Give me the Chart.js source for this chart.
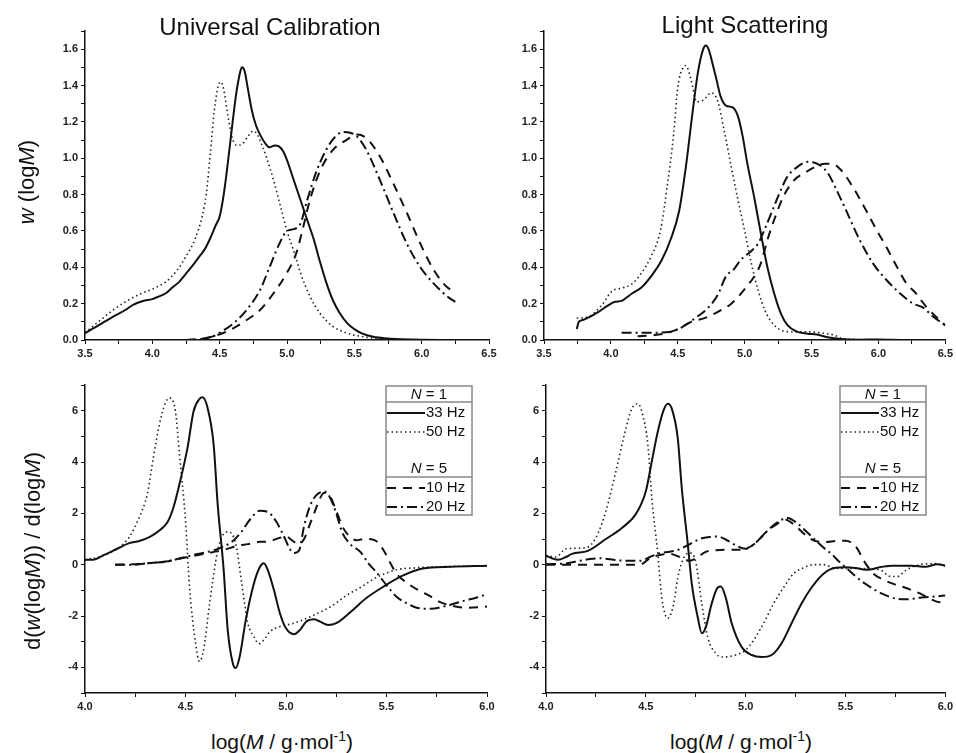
<!DOCTYPE html>
<html lang="en">
<head>
    <meta charset="UTF-8">
    <title>Universal Calibration vs Light Scattering</title>
    <style>
        body {
            margin: 0;
            background: #fff;
            font-family: "Liberation Sans", Arial, sans-serif;
        }
        #wrap {
            position: relative;
            width: 956px;
            height: 753px;
            overflow: hidden;
        }
        canvas { position: absolute; }
        .txt {
            position: absolute;
            color: #111;
            white-space: nowrap;
            line-height: 1;
        }
        .title { font-size: 24px; transform: translate(-50%, -50%); }
        .ylab { font-size: 22px; transform: translate(-50%, -50%) rotate(-90deg); }
        .xlab { font-size: 21px; transform: translate(-50%, -50%); }
        .xlab sup { font-size: 14px; }
    </style>
</head>
<body>
<div id="wrap">
    <canvas id="ucTop" width="500" height="365" style="left:0;top:0"></canvas>
    <canvas id="lsTop" width="486" height="365" style="left:470px;top:0"></canvas>
    <canvas id="ucBot" width="500" height="350" style="left:0;top:370px"></canvas>
    <canvas id="lsBot" width="486" height="350" style="left:470px;top:370px"></canvas>

    <div class="txt title" style="left:270px;top:27px">Universal Calibration</div>
    <div class="txt title" style="left:745px;top:25px">Light Scattering</div>
    <div class="txt ylab" style="left:27px;top:182px"><i>w</i> (log<i>M</i>)</div>
    <div class="txt ylab" style="left:33px;top:551px">d(<i>w</i>(log<i>M</i>)) / d(log<i>M</i>)</div>
    <div class="txt xlab" style="left:282px;top:740px">log(<i>M</i> / g·mol<sup>-1</sup>)</div>
    <div class="txt xlab" style="left:741px;top:740px">log(<i>M</i> / g·mol<sup>-1</sup>)</div>
</div>

<script src="https://cdn.jsdelivr.net/npm/chart.js@4.4.1/dist/chart.umd.min.js"></script>
<script>
// ---- data: [log M, value] pairs ----

// Universal Calibration, w(logM)
const ucTop33 = [[3.5,0.037],[3.6,0.08],[3.7,0.125],[3.8,0.165],[3.86,0.195],[3.93,0.215],[4.0,0.225],[4.05,0.24],[4.1,0.257],[4.15,0.29],[4.2,0.32],[4.25,0.365],[4.3,0.41],[4.35,0.46],[4.39,0.5],[4.43,0.56],[4.47,0.63],[4.5,0.68],[4.53,0.8],[4.56,0.97],[4.59,1.16],[4.62,1.34],[4.645,1.45],[4.665,1.5],[4.685,1.48],[4.71,1.38],[4.74,1.26],[4.77,1.18],[4.8,1.13],[4.84,1.08],[4.87,1.06],[4.91,1.07],[4.94,1.065],[4.97,1.04],[5.0,0.99],[5.05,0.88],[5.1,0.77],[5.15,0.66],[5.2,0.55],[5.245,0.43],[5.29,0.32],[5.34,0.22],[5.39,0.15],[5.45,0.09],[5.5,0.06],[5.56,0.035],[5.64,0.018],[5.75,0.008],[5.85,0.004],[6.0,0.001],[6.2,0]];
const ucTop50 = [[3.5,0.04],[3.6,0.1],[3.7,0.16],[3.8,0.21],[3.9,0.25],[4.0,0.28],[4.1,0.32],[4.18,0.38],[4.25,0.46],[4.32,0.56],[4.37,0.68],[4.4,0.8],[4.43,1.02],[4.46,1.26],[4.49,1.4],[4.51,1.42],[4.53,1.38],[4.56,1.24],[4.59,1.12],[4.63,1.07],[4.67,1.08],[4.71,1.12],[4.75,1.15],[4.78,1.13],[4.81,1.08],[4.85,1.0],[4.9,0.88],[4.95,0.74],[5.0,0.6],[5.05,0.49],[5.1,0.37],[5.17,0.24],[5.245,0.147],[5.34,0.075],[5.45,0.037],[5.59,0.015],[5.72,0.005],[5.9,0.001]];
const ucTop10 = [[4.25,0],[4.35,0.005],[4.45,0.02],[4.53,0.04],[4.6,0.064],[4.7,0.11],[4.8,0.165],[4.9,0.257],[5.0,0.37],[5.07,0.48],[5.12,0.62],[5.17,0.77],[5.245,0.93],[5.34,1.045],[5.44,1.1],[5.52,1.13],[5.59,1.11],[5.69,1.01],[5.79,0.86],[5.89,0.7],[5.99,0.53],[6.09,0.385],[6.19,0.29],[6.25,0.265]];
const ucTop20 = [[4.25,0],[4.35,0.004],[4.45,0.02],[4.5,0.04],[4.6,0.09],[4.7,0.165],[4.8,0.275],[4.87,0.4],[4.95,0.54],[5.0,0.6],[5.05,0.61],[5.1,0.64],[5.15,0.77],[5.22,0.93],[5.29,1.045],[5.36,1.12],[5.42,1.145],[5.47,1.14],[5.52,1.12],[5.59,1.045],[5.69,0.88],[5.79,0.7],[5.89,0.53],[5.99,0.4],[6.09,0.31],[6.19,0.24],[6.25,0.21]];

// Light Scattering, w(logM)
const lsTop33 = [[3.745,0.06],[3.76,0.1],[3.79,0.11],[3.85,0.13],[3.91,0.156],[3.98,0.19],[4.03,0.21],[4.08,0.215],[4.12,0.235],[4.16,0.257],[4.23,0.29],[4.3,0.35],[4.38,0.44],[4.45,0.56],[4.51,0.71],[4.56,0.95],[4.61,1.25],[4.65,1.47],[4.69,1.6],[4.71,1.62],[4.73,1.6],[4.76,1.52],[4.79,1.43],[4.82,1.34],[4.86,1.29],[4.91,1.28],[4.95,1.23],[4.985,1.12],[5.02,0.97],[5.07,0.79],[5.12,0.59],[5.17,0.4],[5.22,0.257],[5.27,0.147],[5.32,0.082],[5.39,0.046],[5.47,0.035],[5.54,0.03],[5.62,0.015],[5.72,0.005],[5.85,0.002],[6.0,0.003],[6.2,0],[6.5,0]];
const lsTop50 = [[3.745,0.12],[3.83,0.128],[3.93,0.19],[4.01,0.27],[4.08,0.285],[4.16,0.31],[4.23,0.37],[4.3,0.46],[4.37,0.6],[4.42,0.84],[4.47,1.14],[4.5,1.39],[4.54,1.5],[4.56,1.51],[4.6,1.43],[4.64,1.31],[4.69,1.32],[4.75,1.36],[4.8,1.31],[4.85,1.14],[4.9,0.95],[4.95,0.77],[5.0,0.6],[5.05,0.42],[5.1,0.275],[5.15,0.165],[5.22,0.082],[5.32,0.046],[5.47,0.045],[5.59,0.037],[5.67,0.027],[5.72,0.01],[5.85,0.002]];
const lsTop10 = [[4.2,0.02],[4.3,0.025],[4.4,0.035],[4.5,0.06],[4.6,0.1],[4.7,0.12],[4.8,0.155],[4.9,0.2],[5.0,0.28],[5.08,0.36],[5.12,0.42],[5.17,0.55],[5.22,0.66],[5.29,0.79],[5.37,0.88],[5.45,0.92],[5.52,0.95],[5.6,0.97],[5.65,0.97],[5.72,0.935],[5.81,0.84],[5.91,0.71],[5.99,0.6],[6.06,0.51],[6.14,0.4],[6.21,0.31],[6.28,0.257],[6.36,0.18],[6.43,0.128],[6.5,0.08]];
const lsTop20 = [[4.08,0.04],[4.2,0.04],[4.3,0.04],[4.44,0.044],[4.53,0.07],[4.63,0.12],[4.73,0.18],[4.8,0.25],[4.86,0.35],[4.92,0.39],[4.97,0.44],[5.05,0.49],[5.1,0.53],[5.15,0.61],[5.2,0.7],[5.25,0.79],[5.32,0.9],[5.39,0.95],[5.47,0.98],[5.54,0.97],[5.62,0.92],[5.69,0.82],[5.76,0.71],[5.86,0.55],[5.96,0.42],[6.06,0.33],[6.16,0.257],[6.26,0.2],[6.33,0.18],[6.41,0.128],[6.5,0.08]];

// Universal Calibration, d(w(logM))/d(logM)
const ucBot33 = [[4.0,0.19],[4.04,0.19],[4.09,0.36],[4.16,0.62],[4.22,0.84],[4.27,0.92],[4.32,1.07],[4.37,1.33],[4.41,1.65],[4.44,2.23],[4.47,3.14],[4.51,4.55],[4.54,5.97],[4.57,6.46],[4.585,6.52],[4.61,6.1],[4.64,4.68],[4.66,2.36],[4.69,-0.22],[4.71,-2.54],[4.735,-3.83],[4.75,-4.03],[4.77,-3.57],[4.8,-2.15],[4.84,-0.74],[4.87,-0.09],[4.89,0.06],[4.91,-0.22],[4.94,-0.99],[4.97,-1.9],[5.0,-2.48],[5.04,-2.71],[5.07,-2.54],[5.1,-2.22],[5.14,-2.13],[5.17,-2.22],[5.21,-2.35],[5.25,-2.28],[5.32,-1.85],[5.4,-1.3],[5.48,-0.88],[5.58,-0.43],[5.68,-0.15],[5.82,-0.08],[6.0,-0.04]];
const ucBot50 = [[4.0,0.19],[4.07,0.3],[4.16,0.62],[4.22,1.07],[4.27,1.85],[4.31,2.75],[4.34,4.17],[4.37,5.46],[4.4,6.3],[4.42,6.5],[4.45,5.97],[4.47,4.3],[4.5,1.72],[4.52,-0.86],[4.55,-3.06],[4.57,-3.77],[4.59,-3.32],[4.62,-1.51],[4.66,0.55],[4.68,1.07],[4.71,1.28],[4.75,0.81],[4.78,-0.74],[4.81,-2.28],[4.84,-2.8],[4.865,-3.08],[4.89,-2.93],[4.92,-2.61],[4.97,-2.41],[5.04,-2.28],[5.14,-1.96],[5.24,-1.55],[5.3,-1.2],[5.37,-0.89],[5.45,-0.5],[5.55,-0.2],[5.65,-0.12],[5.77,-0.08],[6.0,-0.04]];
const ucBot10 = [[4.15,0],[4.25,0.02],[4.3,0.05],[4.4,0.12],[4.5,0.28],[4.6,0.43],[4.7,0.6],[4.76,0.74],[4.81,0.8],[4.87,0.89],[4.91,0.9],[4.97,1.05],[5.0,1.1],[5.03,0.95],[5.06,0.8],[5.09,1.0],[5.12,1.6],[5.14,2.0],[5.17,2.6],[5.19,2.8],[5.22,2.65],[5.25,2.1],[5.28,1.5],[5.31,1.15],[5.35,0.95],[5.39,1.0],[5.43,0.98],[5.46,0.85],[5.49,0.5],[5.52,0.05],[5.55,-0.35],[5.6,-0.7],[5.66,-1.0],[5.71,-1.2],[5.77,-1.47],[5.82,-1.59],[5.9,-1.68],[6.0,-1.63]];
const ucBot20 = [[4.15,0],[4.25,0],[4.3,0.05],[4.35,0.08],[4.4,0.12],[4.45,0.2],[4.5,0.3],[4.55,0.4],[4.6,0.48],[4.65,0.58],[4.7,0.75],[4.74,0.95],[4.78,1.3],[4.82,1.75],[4.87,2.1],[4.91,2.05],[4.95,1.7],[4.99,1.1],[5.02,0.6],[5.04,0.45],[5.065,0.55],[5.09,1.5],[5.12,2.3],[5.15,2.7],[5.19,2.85],[5.22,2.6],[5.25,2.0],[5.28,1.25],[5.32,0.8],[5.37,0.5],[5.41,0.05],[5.45,-0.3],[5.5,-0.8],[5.55,-1.25],[5.6,-1.5],[5.65,-1.68],[5.72,-1.72],[5.8,-1.6],[5.88,-1.42],[5.95,-1.28],[6.0,-1.15]];

// Light Scattering, d(w(logM))/d(logM)
const lsBot33 = [[4.0,0.35],[4.03,0.25],[4.06,0.19],[4.1,0.3],[4.13,0.42],[4.21,0.54],[4.3,1.0],[4.38,1.43],[4.45,1.97],[4.5,2.86],[4.53,4.03],[4.56,5.19],[4.59,6.04],[4.61,6.27],[4.63,6.08],[4.66,4.92],[4.68,2.98],[4.71,0.81],[4.73,-0.74],[4.76,-2.05],[4.78,-2.67],[4.8,-2.44],[4.83,-1.51],[4.86,-0.89],[4.876,-0.85],[4.9,-1.28],[4.93,-2.28],[4.98,-3.21],[5.03,-3.52],[5.08,-3.6],[5.13,-3.52],[5.18,-3.06],[5.23,-2.28],[5.28,-1.51],[5.33,-0.89],[5.39,-0.35],[5.45,-0.12],[5.5,-0.1],[5.55,-0.13],[5.6,-0.2],[5.63,-0.18],[5.67,-0.1],[5.73,-0.04],[5.83,-0.04],[5.9,-0.08],[5.96,0.02],[6.0,-0.04]];
const lsBot50 = [[4.0,0.35],[4.05,0.3],[4.1,0.62],[4.2,0.66],[4.25,1.05],[4.3,2.09],[4.35,3.64],[4.4,5.3],[4.43,6.08],[4.46,6.27],[4.48,5.96],[4.51,4.68],[4.53,2.6],[4.56,0.42],[4.58,-1.28],[4.61,-2.09],[4.64,-1.51],[4.66,-0.5],[4.69,0.27],[4.72,0.46],[4.75,0.1],[4.78,-1.51],[4.81,-2.83],[4.85,-3.45],[4.88,-3.6],[4.95,-3.52],[5.0,-3.33],[5.04,-2.94],[5.09,-2.28],[5.14,-1.51],[5.19,-0.89],[5.24,-0.35],[5.29,-0.12],[5.34,0],[5.39,0],[5.44,-0.12],[5.5,-0.15],[5.6,-0.15],[5.68,-0.23],[5.72,-0.45],[5.76,-0.46],[5.8,-0.23],[5.85,-0.04],[5.95,0.04],[6.0,-0.04]];
const lsBot10 = [[4.0,0],[4.1,0],[4.2,0],[4.3,0],[4.4,0],[4.47,0],[4.52,0.25],[4.57,0.38],[4.62,0.42],[4.67,0.3],[4.72,0.15],[4.76,0.3],[4.8,0.5],[4.85,0.56],[4.9,0.58],[4.95,0.58],[5.0,0.62],[5.05,0.85],[5.1,1.25],[5.15,1.55],[5.2,1.75],[5.25,1.5],[5.3,1.15],[5.35,0.92],[5.4,0.88],[5.45,0.92],[5.5,0.93],[5.55,0.72],[5.6,0.05],[5.64,-0.35],[5.68,-0.55],[5.74,-0.75],[5.8,-0.9],[5.88,-1.15],[5.95,-1.42],[6.0,-1.5]];
const lsBot20 = [[4.0,0.02],[4.1,0.05],[4.17,0.15],[4.22,0.22],[4.27,0.25],[4.33,0.2],[4.4,0.15],[4.47,0.15],[4.52,0.3],[4.57,0.45],[4.62,0.5],[4.67,0.6],[4.72,0.8],[4.77,1.0],[4.82,1.08],[4.86,1.1],[4.9,0.98],[4.95,0.75],[5.0,0.62],[5.05,0.85],[5.1,1.25],[5.15,1.6],[5.21,1.82],[5.26,1.6],[5.3,1.32],[5.35,0.95],[5.4,0.6],[5.43,0.42],[5.47,0.1],[5.5,-0.1],[5.55,-0.45],[5.6,-0.75],[5.68,-1.12],[5.75,-1.32],[5.8,-1.35],[5.88,-1.28],[5.95,-1.24],[6.0,-1.2]];

// legend entries and tick labelling
const seriesLabels = ['33 Hz', '50 Hz', '10 Hz', '20 Hz'];
const legendGroups = ['1', '5'];

// line styles, same order as seriesLabels
const lineStyles = [
    { borderColor: '#111', borderWidth: 2, borderDash: [] },
    { borderColor: '#222', borderWidth: 1.6, borderDash: [1.5, 3] },
    { borderColor: '#111', borderWidth: 2, borderDash: [9, 7] },
    { borderColor: '#111', borderWidth: 2, borderDash: [10, 4, 2, 4] }
];

const FONT = '"Liberation Sans", Arial, sans-serif';

// legend drawn inside the lower panels
const boxLegend = {
    id: 'boxLegend',
    afterDraw(chart, args, opts) {
        if (!opts || !opts.show) return;
        const ctx = chart.ctx;
        const x0 = opts.x, y0 = opts.y, w = 86, h = 129;
        ctx.save();
        ctx.strokeStyle = '#888';
        ctx.lineWidth = 1.5;
        ctx.strokeRect(x0, y0, w, h);

        const header = (txt, cy) => {
            ctx.font = 'italic 15px ' + FONT;
            const wn = ctx.measureText('N').width;
            ctx.font = '15px ' + FONT;
            const rest = ' = ' + txt;
            const wr = ctx.measureText(rest).width;
            let sx = x0 + w / 2 - (wn + wr) / 2;
            ctx.fillStyle = '#111';
            ctx.textBaseline = 'middle';
            ctx.textAlign = 'left';
            ctx.font = 'italic 15px ' + FONT;
            ctx.fillText('N', sx, cy);
            ctx.font = '15px ' + FONT;
            ctx.fillText(rest, sx + wn, cy);
        };
        const sep = (cy) => {
            ctx.strokeStyle = '#888';
            ctx.lineWidth = 1.5;
            ctx.setLineDash([]);
            ctx.beginPath();
            ctx.moveTo(x0, cy);
            ctx.lineTo(x0 + w, cy);
            ctx.stroke();
        };
        const entry = (i, cy) => {
            const st = lineStyles[i];
            ctx.strokeStyle = st.borderColor;
            ctx.lineWidth = st.borderWidth;
            ctx.setLineDash(st.borderDash);
            ctx.beginPath();
            ctx.moveTo(x0 + 1, cy);
            ctx.lineTo(x0 + 39, cy);
            ctx.stroke();
            ctx.setLineDash([]);
            ctx.fillStyle = '#111';
            ctx.font = '15px ' + FONT;
            ctx.textAlign = 'left';
            ctx.textBaseline = 'middle';
            ctx.fillText(seriesLabels[i], x0 + 40, cy);
        };

        header(legendGroups[0], y0 + 9);
        sep(y0 + 16);
        entry(0, y0 + 27);
        entry(1, y0 + 46);
        header(legendGroups[1], y0 + 83);
        sep(y0 + 91);
        entry(2, y0 + 102);
        entry(3, y0 + 121);
        ctx.restore();
    }
};

function toPts(arr) {
    return arr.map(p => ({ x: p[0], y: p[1] }));
}

function makePanel(id, series, cfg) {
    const datasets = series.map((s, i) => Object.assign({
        label: seriesLabels[i],
        data: toPts(s),
        showLine: true,
        pointRadius: 0,
        fill: false,
        cubicInterpolationMode: 'monotone'
    }, lineStyles[i]));

    const tickFont = { family: FONT, size: 11, weight: 'bold' };

    return new Chart(document.getElementById(id), {
        type: 'scatter',
        data: { datasets },
        options: {
            responsive: false,
            animation: false,
            devicePixelRatio: 1,
            layout: { padding: cfg.padding },
            plugins: {
                legend: { display: false },
                tooltip: { enabled: false },
                boxLegend: cfg.legend || { show: false }
            },
            scales: {
                x: {
                    type: 'linear',
                    min: cfg.xMin, max: cfg.xMax,
                    afterFit: s => { s.height = cfg.xHeight; },
                    border: { display: true, color: '#111', width: 1.5 },
                    grid: { display: true, drawOnChartArea: false, drawTicks: true, tickLength: 4, tickColor: '#111', tickWidth: 1 },
                    ticks: {
                        stepSize: 0.25, autoSkip: false, maxRotation: 0, padding: 3,
                        color: '#222', font: tickFont,
                        callback: v => (Math.abs(v * 2 - Math.round(v * 2)) < 1e-6 ? v.toFixed(1) : '')
                    }
                },
                y: {
                    type: 'linear',
                    min: cfg.yMin, max: cfg.yMax,
                    afterFit: s => { s.width = cfg.yWidth; },
                    border: { display: true, color: '#111', width: 1.5 },
                    grid: { display: true, drawOnChartArea: false, drawTicks: true, tickLength: 4, tickColor: '#111', tickWidth: 1 },
                    ticks: {
                        stepSize: cfg.yStep, autoSkip: false, padding: 3,
                        color: '#222', font: tickFont,
                        callback: cfg.yLabel
                    }
                }
            }
        },
        plugins: [boxLegend]
    });
}

const topLabel = v => (Math.abs(v * 5 - Math.round(v * 5)) < 1e-6 ? v.toFixed(1) : '');
const botLabel = v => (Math.round(v) % 2 === 0 ? String(Math.round(v)) : '');

makePanel('ucTop', [ucTop33, ucTop50, ucTop10, ucTop20], {
    xMin: 3.5, xMax: 6.5, yMin: 0, yMax: 1.7, yStep: 0.1, yLabel: topLabel,
    padding: { left: 0, top: 31, right: 11, bottom: 0 }, yWidth: 85, xHeight: 25
});
makePanel('lsTop', [lsTop33, lsTop50, lsTop10, lsTop20], {
    xMin: 3.5, xMax: 6.5, yMin: 0, yMax: 1.7, yStep: 0.1, yLabel: topLabel,
    padding: { left: 0, top: 31, right: 8, bottom: 0 }, yWidth: 74, xHeight: 25
});
makePanel('ucBot', [ucBot33, ucBot50, ucBot10, ucBot20], {
    xMin: 4, xMax: 6, yMin: -5, yMax: 7, yStep: 1, yLabel: botLabel,
    padding: { left: 0, top: 15, right: 13, bottom: 0 }, yWidth: 85, xHeight: 27,
    legend: { show: true, x: 386, y: 16 }
});
makePanel('lsBot', [lsBot33, lsBot50, lsBot10, lsBot20], {
    xMin: 4, xMax: 6, yMin: -5, yMax: 7, yStep: 1, yLabel: botLabel,
    padding: { left: 0, top: 15, right: 8, bottom: 0 }, yWidth: 76, xHeight: 27,
    legend: { show: true, x: 370, y: 16 }
});
</script>
</body>
</html>
